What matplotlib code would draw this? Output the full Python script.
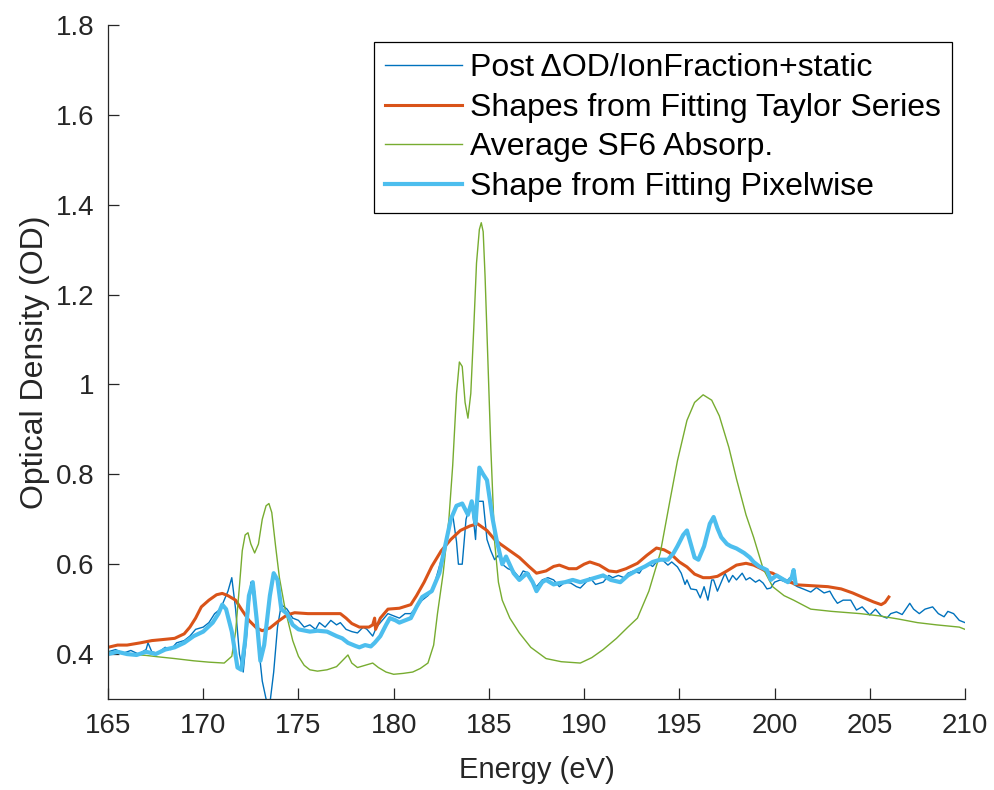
import matplotlib
matplotlib.use("Agg")
import matplotlib.pyplot as plt


# =====================
# DADOS
# =====================

# Post dOD/IonFraction+static (linha azul escura, ruidosa)
post_e = [165.0, 165.4, 165.8, 166.2, 166.6, 167.0, 167.1, 167.3, 167.6, 168.0,
          168.3, 168.6, 169.0, 169.3, 169.6, 170.0, 170.3, 170.6, 170.9, 171.1,
          171.3, 171.5, 171.7, 171.9, 172.1, 172.3, 172.5, 172.7, 172.9, 173.1,
          173.3, 173.5, 173.7, 173.9, 174.1, 174.4, 174.7, 175.0, 175.3, 175.6,
          175.9, 176.1, 176.4, 176.7, 177.0, 177.2, 177.5, 177.8, 178.1, 178.4,
          178.6, 178.9, 179.1, 179.4, 179.7, 180.0, 180.3, 180.6, 180.9, 181.2,
          181.5, 181.8, 182.0, 182.2, 182.4, 182.7, 182.9, 183.1, 183.3, 183.4,
          183.6, 183.8, 184.0, 184.1, 184.3, 184.4, 184.7, 184.9, 185.1, 185.3,
          185.5, 185.7, 186.0, 186.3, 186.6, 186.8, 187.1, 187.3, 187.5, 187.8,
          188.1, 188.4, 188.7, 189.0, 189.3, 189.6, 189.8, 190.1, 190.3, 190.6,
          191.0, 191.3, 191.5, 191.8, 192.1, 192.3, 192.6, 192.9, 193.1, 193.4,
          193.6, 193.8, 194.1, 194.4, 194.6, 194.9, 195.1, 195.3, 195.4, 195.6,
          195.9, 196.1, 196.3, 196.5, 196.7, 196.8, 197.0, 197.2, 197.4, 197.6,
          197.8, 198.0, 198.3, 198.5, 198.7, 199.0, 199.2, 199.4, 199.6, 199.8,
          200.0, 200.3, 200.6, 200.8, 201.0, 201.2, 201.5, 201.9, 202.2, 202.6,
          202.9, 203.1, 203.3, 203.6, 204.0, 204.3, 204.6, 205.0, 205.3, 205.6,
          205.9, 206.1, 206.4, 206.7, 207.1, 207.3, 207.6, 207.9, 208.3, 208.6,
          208.9, 209.1, 209.4, 209.7, 210.0]
post_od = [0.405, 0.41, 0.402, 0.408, 0.400, 0.41, 0.425, 0.405, 0.402, 0.415,
           0.41, 0.425, 0.43, 0.44, 0.455, 0.46, 0.47, 0.49, 0.50, 0.52,
           0.54, 0.57, 0.50, 0.40, 0.36, 0.45, 0.56, 0.54, 0.42, 0.34,
           0.30, 0.29, 0.36, 0.46, 0.51, 0.50, 0.48, 0.475, 0.46, 0.465,
           0.455, 0.47, 0.46, 0.475, 0.465, 0.47, 0.455, 0.45, 0.447, 0.46,
           0.455, 0.44, 0.46, 0.475, 0.49, 0.485, 0.48, 0.49, 0.49, 0.505,
           0.52, 0.53, 0.54, 0.565, 0.595, 0.64, 0.68, 0.71, 0.65, 0.60,
           0.60, 0.70, 0.73, 0.735, 0.655, 0.74, 0.74, 0.655, 0.63, 0.61,
           0.62, 0.60, 0.59, 0.585, 0.57, 0.585, 0.58, 0.56, 0.55, 0.565,
           0.57, 0.565, 0.55, 0.56, 0.558, 0.55, 0.547, 0.56, 0.57, 0.555,
           0.56, 0.575, 0.57, 0.575, 0.57, 0.58, 0.585, 0.58, 0.593, 0.60,
           0.595, 0.605, 0.61, 0.598, 0.605, 0.594, 0.58, 0.555, 0.565, 0.545,
           0.543, 0.525, 0.55, 0.52, 0.565, 0.565, 0.54, 0.56, 0.58, 0.56,
           0.575, 0.565, 0.58, 0.565, 0.57, 0.56, 0.565, 0.558, 0.545, 0.547,
           0.56, 0.565, 0.56, 0.57, 0.555, 0.55, 0.545, 0.538, 0.548, 0.536,
           0.54, 0.525, 0.513, 0.52, 0.52, 0.498, 0.505, 0.487, 0.50, 0.485,
           0.48, 0.49, 0.494, 0.488, 0.513, 0.50, 0.49, 0.50, 0.505, 0.49,
           0.483, 0.495, 0.49, 0.475, 0.47]

# Shapes from Fitting Taylor Series (laranja)
taylor_e = [165.0, 165.5, 166.0, 166.7, 167.3, 167.8, 168.5, 169.0, 169.3, 169.6,
            169.9, 170.3, 170.7, 171.0, 171.3, 171.7, 172.0, 172.4, 172.8, 173.1,
            173.5, 174.0, 174.4, 174.8, 175.5, 176.5, 177.2, 177.5, 177.8, 178.2,
            178.7, 178.9, 179.0, 179.05, 179.3, 179.7, 180.3, 180.9, 181.2, 181.6,
            182.0, 182.5, 183.0, 183.5, 184.0, 184.4, 184.9, 185.3, 185.6, 186.1,
            186.6, 187.1, 187.5, 188.0, 188.4, 188.7, 189.2, 189.6, 190.0, 190.3,
            190.8, 191.3, 191.7, 192.2, 192.8, 193.3, 193.8, 194.2, 194.5, 195.0,
            195.4, 195.8, 196.25, 196.6, 197.0, 197.5, 198.0, 198.5, 198.9, 199.3,
            199.6, 199.9, 200.5, 201.2, 202.0, 202.8, 203.5, 204.1, 204.7, 205.2,
            205.6, 205.8, 206.0]
taylor_od = [0.415, 0.42, 0.42, 0.425, 0.43, 0.432, 0.435, 0.445, 0.46, 0.48,
             0.505, 0.52, 0.532, 0.535, 0.53, 0.52, 0.50, 0.475, 0.458, 0.452,
             0.458, 0.475, 0.487, 0.492, 0.49, 0.49, 0.49, 0.48, 0.468, 0.46,
             0.46, 0.465, 0.48, 0.455, 0.48, 0.50, 0.502, 0.51, 0.53, 0.56,
             0.595, 0.63, 0.655, 0.675, 0.685, 0.69, 0.675, 0.655, 0.645, 0.63,
             0.615, 0.595, 0.58, 0.585, 0.595, 0.598, 0.59, 0.59, 0.60, 0.605,
             0.598, 0.585, 0.583, 0.59, 0.602, 0.62, 0.636, 0.632, 0.625, 0.605,
             0.594, 0.578, 0.57, 0.57, 0.573, 0.585, 0.598, 0.602, 0.598, 0.59,
             0.583, 0.58, 0.565, 0.554, 0.552, 0.55, 0.545, 0.536, 0.525, 0.516,
             0.51, 0.515, 0.527]

# Average SF6 Absorp. (verde)
sf6_e = [165.0, 166.0, 167.0, 167.6, 168.5, 169.5, 170.3, 171.1, 171.5, 171.7,
         171.9, 172.05, 172.2, 172.35, 172.5, 172.7, 172.9, 173.1, 173.3, 173.45,
         173.6, 173.8, 174.0, 174.3, 174.7, 175.0, 175.3, 175.6, 176.0, 176.5,
         177.0, 177.3, 177.6, 177.8, 178.1, 178.5, 178.9, 179.2, 179.6, 180.0,
         180.5, 181.0, 181.4, 181.8, 182.1, 182.3, 182.6, 182.9, 183.1, 183.3,
         183.45, 183.6, 183.75, 183.9, 184.05, 184.2, 184.35, 184.5, 184.6, 184.7,
         184.8, 184.95, 185.1, 185.3, 185.5, 185.7, 186.1, 186.6, 187.2, 188.0,
         188.8, 189.8, 190.4, 191.0, 191.7, 192.3, 192.8, 193.4, 194.0, 194.5,
         194.9, 195.4, 195.8, 196.25, 196.7, 197.1, 197.6, 198.0, 198.5, 198.9,
         199.4, 199.9, 200.5, 201.0, 201.9, 203.0, 204.5, 205.5, 206.5, 207.5,
         208.5, 209.7, 210.0]
sf6_od = [0.405, 0.40, 0.397, 0.394, 0.39, 0.385, 0.382, 0.38, 0.395, 0.45,
          0.55, 0.63, 0.665, 0.67, 0.645, 0.625, 0.645, 0.70, 0.73, 0.735,
          0.715, 0.64, 0.57, 0.50, 0.43, 0.395, 0.375, 0.365, 0.362, 0.365,
          0.372, 0.385, 0.398, 0.38, 0.37, 0.375, 0.38, 0.37, 0.36, 0.355,
          0.357, 0.36, 0.368, 0.38, 0.42, 0.49, 0.58, 0.70, 0.82, 0.98,
          1.05, 1.04, 0.96, 0.925, 0.98, 1.12, 1.27, 1.345, 1.36, 1.34,
          1.24, 1.05, 0.86, 0.65, 0.56, 0.52, 0.48, 0.447, 0.415, 0.39,
          0.383, 0.38, 0.392, 0.41, 0.435, 0.46, 0.48, 0.54, 0.625, 0.74,
          0.83, 0.92, 0.96, 0.977, 0.965, 0.93, 0.86, 0.79, 0.71, 0.66,
          0.59, 0.55, 0.53, 0.52, 0.50, 0.495, 0.49, 0.485, 0.478, 0.47,
          0.465, 0.46, 0.455]

# Shape from Fitting Pixelwise (azul claro, grossa)
pixel_e = [165.0, 165.5, 166.0, 166.5, 167.0, 167.5, 168.0, 168.5, 169.0, 169.5,
           170.0, 170.5, 170.8, 171.0, 171.2, 171.5, 171.8, 172.0, 172.2, 172.4,
           172.6, 172.8, 173.0, 173.2, 173.5, 173.7, 173.9, 174.1, 174.4, 174.7,
           175.0, 175.6, 176.0, 176.5, 177.0, 177.3, 177.6, 178.0, 178.2, 178.5,
           178.8, 179.0, 179.3, 179.6, 179.8, 180.1, 180.3, 180.6, 180.9, 181.2,
           181.5, 182.0, 182.4, 182.7, 183.0, 183.3, 183.6, 183.9, 184.1, 184.3,
           184.5, 184.7, 184.9, 185.2, 185.4, 185.7, 185.9, 186.3, 186.6, 187.0,
           187.3, 187.5, 187.8, 188.0, 188.4, 188.7, 189.0, 189.4, 189.8, 190.2,
           190.6, 191.0, 191.4, 191.9, 192.3, 192.8, 193.2, 193.6, 194.0, 194.4,
           194.7, 194.9, 195.2, 195.4, 195.6, 195.8, 196.0, 196.3, 196.6, 196.8,
           197.0, 197.2, 197.5, 197.7, 198.0, 198.4, 198.7, 198.9, 199.2, 199.6,
           199.8, 200.1, 200.3, 200.7, 200.9, 201.0, 201.1]
pixel_od = [0.40, 0.405, 0.40, 0.398, 0.405, 0.40, 0.41, 0.415, 0.425, 0.44,
            0.45, 0.47, 0.49, 0.51, 0.50, 0.45, 0.37, 0.365, 0.43, 0.53,
            0.56, 0.48, 0.385, 0.42, 0.53, 0.58, 0.565, 0.50, 0.49, 0.465,
            0.455, 0.45, 0.452, 0.45, 0.44, 0.435, 0.425, 0.418, 0.415, 0.42,
            0.417, 0.425, 0.44, 0.465, 0.48, 0.475, 0.47, 0.475, 0.48, 0.505,
            0.527, 0.54, 0.58, 0.64, 0.70, 0.73, 0.735, 0.71, 0.74, 0.69,
            0.815, 0.80, 0.787, 0.70, 0.655, 0.60, 0.617, 0.58, 0.565, 0.58,
            0.56, 0.54, 0.56, 0.565, 0.555, 0.558, 0.56, 0.565, 0.56, 0.565,
            0.57, 0.575, 0.565, 0.56, 0.575, 0.587, 0.595, 0.605, 0.61, 0.61,
            0.625, 0.64, 0.665, 0.675, 0.645, 0.615, 0.61, 0.64, 0.69, 0.705,
            0.68, 0.66, 0.645, 0.64, 0.635, 0.625, 0.615, 0.605, 0.595, 0.587,
            0.565, 0.575, 0.57, 0.56, 0.57, 0.587, 0.558]

labels = ["Post\u2009\u0394OD/IonFraction+static",
          "Shapes from Fitting Taylor Series",
          "Average SF6 Absorp.",
          "Shape from Fitting Pixelwise"]

x_ticks = [165, 170, 175, 180, 185, 190, 195, 200, 205, 210]
y_ticks = [0.4, 0.6, 0.8, 1.0, 1.2, 1.4, 1.6, 1.8]
y_tick_labels = ["0.4", "0.6", "0.8", "1", "1.2", "1.4", "1.6", "1.8"]


# =====================
# GRÁFICO
# =====================

plt.rcParams["font.family"] = ["Liberation Sans", "DejaVu Sans"]

fig = plt.figure(figsize=(9.95, 7.9), dpi=100)
ax = fig.add_axes([108 / 995, 1 - 699 / 790, 857 / 995, 674 / 790])

ax.plot(post_e, post_od, color="#0072BD", lw=1.0, label=labels[0])
ax.plot(taylor_e, taylor_od, color="#D95319", lw=2.2, label=labels[1])
ax.plot(sf6_e, sf6_od, color="#77AC30", lw=1.0, label=labels[2])
ax.plot(pixel_e, pixel_od, color="#4DBEEE", lw=3.0, label=labels[3])

ax.set_xlim(165, 210)
ax.set_ylim(0.3, 1.8)
ax.set_xticks(x_ticks)
ax.set_yticks(y_ticks)
ax.set_yticklabels(y_tick_labels)

for lado in ["top", "right"]:
    ax.spines[lado].set_visible(False)
for lado in ["left", "bottom"]:
    ax.spines[lado].set_color("#262626")
    ax.spines[lado].set_linewidth(0.9)

ax.tick_params(direction="in", length=8, width=0.9, colors="#262626",
               labelsize=20, pad=10)

ax.set_xlabel("Energy (eV)", fontsize=21, color="#262626", labelpad=12)
ax.set_ylabel("Optical Density (OD)", fontsize=23, color="#262626", labelpad=4)

leg = ax.legend(loc="upper right", bbox_to_anchor=(952 / 995, 1 - 42 / 790),
                bbox_transform=fig.transFigure, fontsize=23, frameon=True,
                fancybox=False, framealpha=1, edgecolor="black",
                handlelength=2.4, handletextpad=0.25, labelspacing=0.3,
                borderpad=0.35, borderaxespad=0)
leg.get_frame().set_linewidth(0.9)

plt.savefig("out.png", dpi=100)
